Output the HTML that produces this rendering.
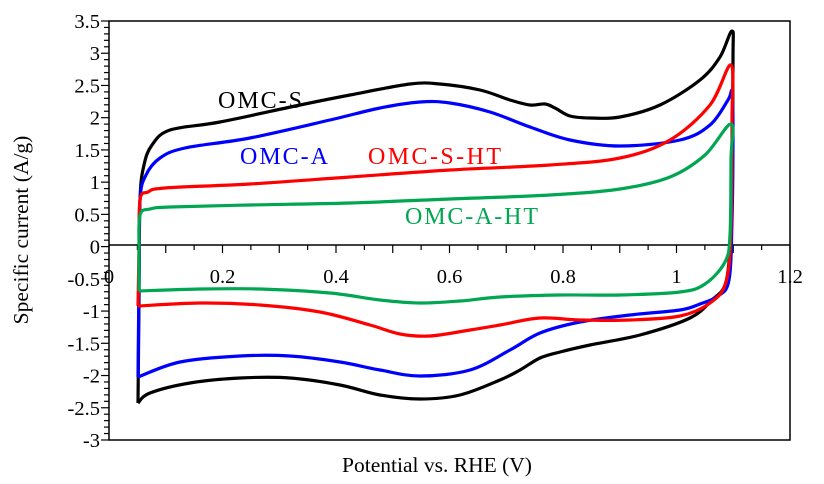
<!DOCTYPE html>
<html><head><meta charset="utf-8"><style>
html,body{margin:0;padding:0;background:#fff}
svg{display:block}
text{font-family:"Liberation Serif",serif;}
</style></head><body>
<svg id="s" width="824" height="484" viewBox="0 0 824 484">
<rect x="109" y="21" width="681" height="419" fill="none" stroke="#000" stroke-width="1.5"/>
<line x1="109" y1="245" x2="790" y2="245" stroke="#000" stroke-width="1.5"/>
<g id="ticks" stroke="#000" stroke-width="1.2"></g>
<g font-size="20.5" text-anchor="end" id="yl"></g>
<g font-size="20.5" text-anchor="middle" id="xl"></g>
<text x="437" y="472" font-size="21.5" text-anchor="middle">Potential vs. RHE (V)</text>
<text transform="translate(28,230) rotate(-90)" font-size="21.5" text-anchor="middle">Specific current  (A/g)</text>
<g id="curves" fill="none" stroke-width="3.2" stroke-linejoin="round"></g>
<text x="218" y="108" font-size="24" textLength="84">OMC-S</text>
<text x="240" y="164" font-size="24" fill="#0000ff" textLength="88">OMC-A</text>
<text x="368" y="164" font-size="24" fill="#ff0000" textLength="133">OMC-S-HT</text>
<text x="405" y="224" font-size="24" fill="#00a651" textLength="133">OMC-A-HT</text>
</svg>
<script>
const NS="http://www.w3.org/2000/svg";
function el(p,t,a,txt){const e=document.createElementNS(NS,t);for(const k in a)e.setAttribute(k,a[k]);if(txt!==undefined)e.textContent=txt;document.getElementById(p).appendChild(e);}
const Y=v=>21+(3.5-v)*64.46, X=v=>109+567.5*v;
for(let i=0;i<=65;i++){const v=3.5-i*0.1,y=Y(v);const maj=i%5==0;el("ticks","line",{x1:maj?101:104,x2:109,y1:y,y2:y});}
for(let i=0;i<=24;i++){const x=X(i*0.05);const maj=i%2==0;el("ticks","line",{x1:x,x2:x,y1:245,y2:maj?253:250});}
const yl=["3.5","3","2.5","2","1.5","1","0.5","0","-0.5","-1","-1.5","-2","-2.5","-3"];
yl.forEach((t,i)=>el("yl","text",{x:100,y:Y(3.5-i*0.5)+7},t));
["0","0.2","0.4","0.6","0.8","1","1.2"].forEach((t,i)=>el("xl","text",{x:X(i*0.2),y:283},t));
function cr(p){let d="M"+p[0].join(",");for(let i=0;i<p.length-1;i++){const p0=p[i-1]||p[i],p1=p[i],p2=p[i+1],p3=p[i+2]||p2;
const c1=[p1[0]+(p2[0]-p0[0])/6,p1[1]+(p2[1]-p0[1])/6],c2=[p2[0]-(p3[0]-p1[0])/6,p2[1]-(p3[1]-p1[1])/6];
d+=" C"+c1.join(",")+" "+c2.join(",")+" "+p2.join(",");}return d;}
const C={
"#000":[[138,403],[139,300],[140,200],[144,165],[152,145],[170,130],[220,122],[300,105],[350,95],[410,84],[440,84],[480,90],[510,100],[530,105],[545,104],[555,108],[570,116],[590,118],[620,117],[660,105],[700,80],[720,57],[732,31],[733,60],[732,200],[730,250],[725,285],[712,300],[690,318],[640,335],[590,345],[560,352],[540,358],[520,370],[500,380],[460,395],[420,399],[380,395],[340,385],[290,378],[240,378],[190,383],[150,393],[138,403]],
"#0000ff":[[138,377],[139,280],[140,200],[146,175],[160,158],[185,148],[250,138],[330,120],[380,108],[420,102],[450,103],[490,112],[530,127],[570,140],[620,146],[680,140],[710,125],[728,100],[732,92],[733,130],[732,220],[729,280],[718,296],[700,304],[680,310],[630,315],[580,322],[540,333],[510,350],[470,370],[420,376],[380,370],[340,362],[290,356],[240,356],[180,362],[138,377]],
"#ff0000":[[138,306],[139,250],[140,200],[148,192],[165,188],[250,184],[350,177],[450,170],[550,165],[620,158],[670,140],[710,105],[731,65],[732,120],[731,230],[726,282],[710,303],[680,316],[630,320],[580,320],[540,318],[500,325],[470,330],[430,336],[400,334],[370,325],[320,312],[260,305],[200,303],[138,306]],
"#00a651":[[139,291],[139,250],[140,215],[150,209],[170,207],[250,205],[350,203],[450,199],[550,195],[620,189],[670,177],[705,155],[731,124],[731,160],[730,235],[725,262],[705,284],[680,292],[620,295],[560,295],[500,297],[460,301],[420,303],[380,300],[330,293],[260,289],[200,289],[139,291]]};
for(const c in C)el("curves","path",{d:cr(C[c]),stroke:c});
</script>
</body></html>
